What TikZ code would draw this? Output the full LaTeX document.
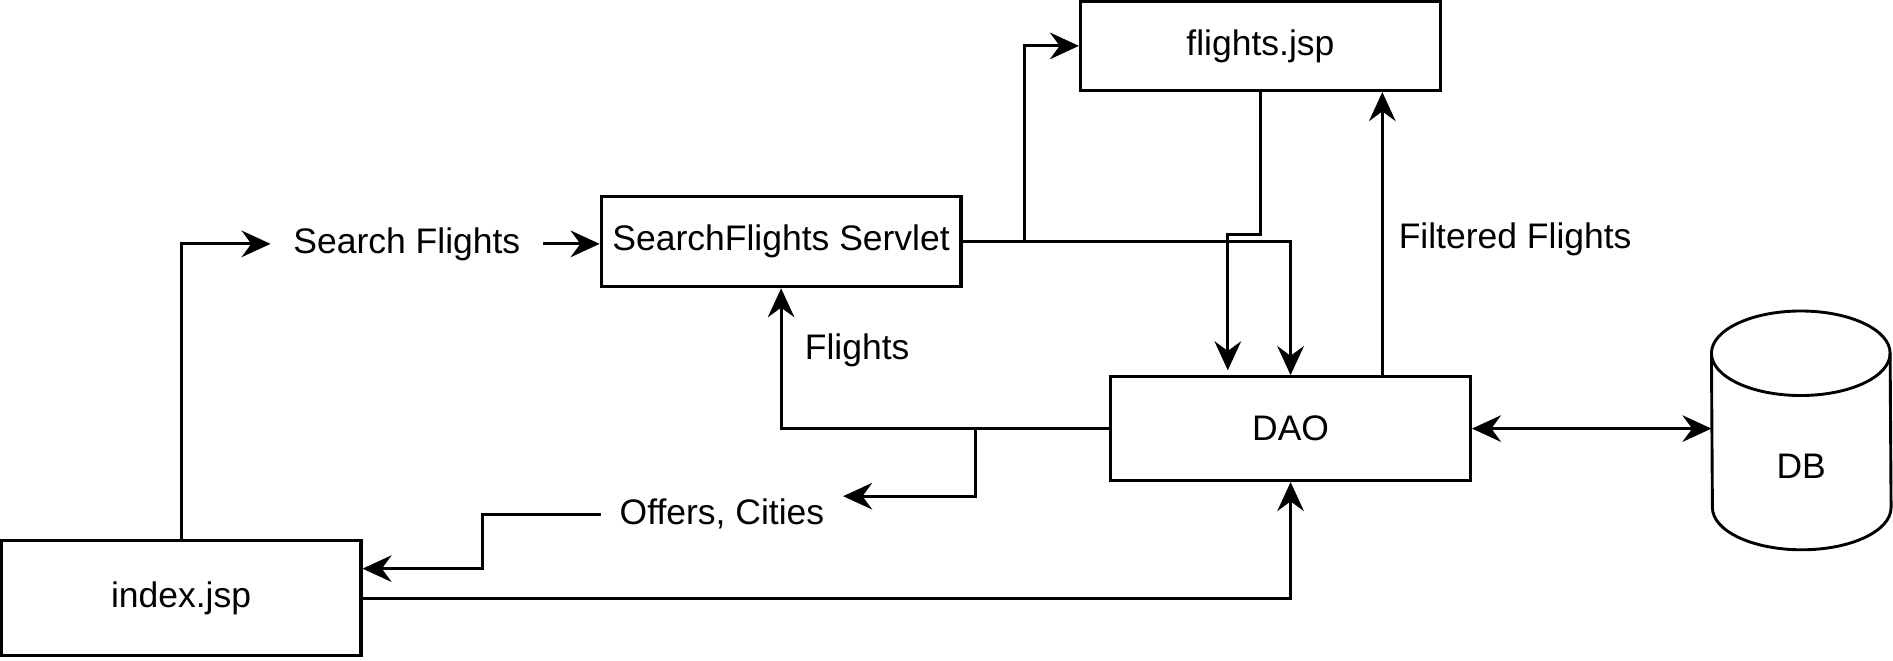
\documentclass[tikz,border=0pt]{standalone}
\usepackage{fontspec}
\setmainfont{Liberation Sans}
\usetikzlibrary{positioning,arrows.meta,calc}
\tikzstyle{pagebox}=[rectangle, draw=black, line width=1.3pt, inner sep=0pt, text centered, minimum width=149pt]
\tikzstyle{lbl}=[rectangle, inner sep=0pt, text centered]
\tikzstyle{line}=[-, line width=1.25pt]
\tikzstyle{arrline}=[-{Stealth[length=12pt,width=11pt,inset=4pt]}, line width=1.25pt]
\tikzstyle{dblline}=[{Stealth[length=12pt,width=11pt,inset=4pt]}-{Stealth[length=12pt,width=11pt,inset=4pt]}, line width=1.25pt]

\begin{document}
\begin{tikzpicture}[x=0.5pt, y=-0.5pt, font=\fontsize{14.7pt}{17pt}\selectfont]

    \useasboundingbox (0,0) rectangle (1568,546.7);

    \node (idx) [pagebox, minimum height=47.5pt] at (150,495.5) {index.jsp};
    \node (servlet) [pagebox, minimum height=37.5pt] at (647,200) {SearchFlights Servlet};
    \node (flights) [pagebox, minimum height=37pt] at (1044,38) {flights.jsp};
    \node (dao) [pagebox, minimum height=43pt] at (1069,355) {DAO};

% DB cylinder
    \node (db) [rectangle, inner sep=0pt, minimum width=74pt, minimum height=98.5pt] at (1492,356.5) {};
    \draw[line, line width=1.2pt, fill=white] ([yshift=-17.5pt]db.north west)
        arc[start angle=180, end angle=0, x radius=37pt, y radius=17.5pt]
        -- ([yshift=17.5pt]db.south east)
        arc[start angle=0, end angle=-180, x radius=37pt, y radius=17.5pt] -- cycle;
    \draw[line, line width=1.2pt] ([yshift=-17.5pt]db.north west)
        arc[start angle=180, end angle=360, x radius=37pt, y radius=17.5pt];
    \node (dbt) [lbl, below=15pt of db.center, anchor=center] {DB};
%%%% end DB

 %% LABELS ..
    \node (sf) [lbl, minimum width=112.5pt] at (337,202) {Search Flights};
    \node (fl) [lbl] at (710,290) {Flights};
    \node (oc) [lbl, minimum width=100pt] at (598,426) {Offers, Cities};
    \node (ff) [lbl] at (1255,198) {Filtered Flights};

   \draw[arrline] (idx.north) |- (sf.west);
   \draw[arrline] (sf.east) --  (sf.east -| servlet.west);
   \draw[arrline] (servlet.east) -- ++(51,0) |- (flights.west);
   \draw[arrline] (servlet.east) -| (dao.north);
   \draw[arrline, shorten >=2pt] (flights.south) -- ++(0,118) -| ([xshift=-26pt]dao.north);
   \draw[arrline] ([xshift=38pt]dao.north) --  ([xshift=38pt]dao.north |- flights.south);

%dao back to the pages
   \draw[arrline] (dao.west) -| (servlet.south);
   \draw[arrline] (dao.west) -- ++(-111,0) |- ([yshift=7.5pt]oc.east);
   \draw[arrline] (oc.west) -- ++(-98,0) |- ([yshift=12.25pt]idx.east);
   \draw[arrline] (idx.east) -| (dao.south);
   \draw[dblline] (dao.east) --  (dao.east -| db.west);

\end{tikzpicture}
\end{document}
